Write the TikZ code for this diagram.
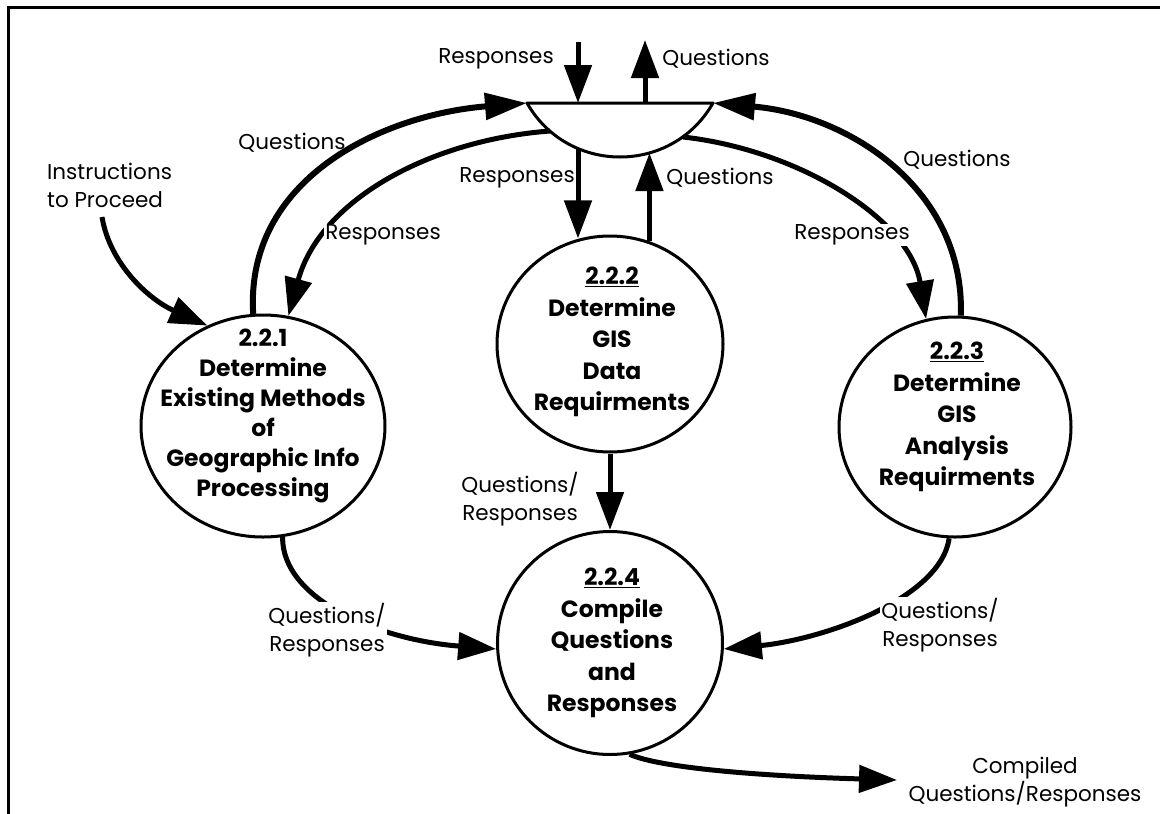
\documentclass[tikz,border=0pt]{standalone}
\usepackage{fontspec}
\setmainfont{Poppins}
\usetikzlibrary{arrows.meta,shapes.geometric}

\tikzset{
  proc/.style={ellipse, draw, line width=3pt, inner sep=0pt},
  proctext/.style={align=center, font=\bfseries\fontsize{23.5}{31.5}\selectfont},
  lbl/.style={align=center, font=\fontsize{21.5}{28}\selectfont, inner sep=1pt},
  lblw/.style={lbl, fill=white},
  flow/.style={line width=5pt, -{Triangle[length=38pt,width=27pt]}},
  bigflow/.style={line width=6pt, -{Triangle[length=42pt,width=26pt]}},
  storeline/.style={line width=3pt, line join=round},
}

\begin{document}
\begin{tikzpicture}[x=1pt,y=-1pt]
\useasboundingbox (0,0) rectangle (1160,814);

% outer frame
\draw[line width=3pt] (8,830) -- (8,7) -- (1175,7);

% data store (flat top, curved bottom)
\coordinate (sL) at (527,103);
\coordinate (sR) at (713,103);
\coordinate (sTin) at (578,103);
\coordinate (sTout) at (645,103);
\coordinate (sB1) at (578,148);
\coordinate (sB2) at (650,153);
\coordinate (sBL) at (550,131);
\coordinate (sBR) at (683,137);
\draw[storeline] (sL) .. controls (568,175) and (672,175) .. (sR) -- cycle;

% processes
\node[proc, minimum width=244pt, minimum height=222pt] (p1) at (263,426) {};
\node[proctext, font=\bfseries\fontsize{23.5}{30}\selectfont] (t1) at (263,416) {2.2.1\\Determine\\Existing Methods\\of\\Geographic Info\\Processing};

\node[proc, minimum width=226pt, minimum height=216pt] (p2) at (610,344) {};
\node[proctext] (t2) at (612,342) {\underline{2.2.2}\\Determine\\GIS\\Data\\Requirments};

\node[proc, minimum width=232pt, minimum height=220pt] (p3) at (955,427) {};
\node[proctext] (t3) at (957,417) {\underline{2.2.3}\\Determine\\GIS\\Analysis\\Requirments};

\node[proc, minimum width=225pt, minimum height=223pt] (p4) at (610,643) {};
\node[proctext] (t4) at (612,643) {\underline{2.2.4}\\Compile\\Questions\\and\\Responses};

% external flows at the store
\coordinate (extIn) at (578,42);
\coordinate (extOut) at (645,40);
\draw[flow] (extIn) -- (sTin);
\draw[flow] (sTout) -- (extOut);
\node[lbl] (lRespTop) at (496,59) {Responses};
\node[lbl] (lQuesTop) at (716,59) {Questions};

% 2.2.1 <-> store
\draw[bigflow] (p1.95) .. controls (245,180) and (380,115) .. (sL);
\draw[flow] (sBL) .. controls (430,140) and (320,200) .. (p1.77);
\node[lbl] (lQ1) at (292,143) {Questions};
\node[lblw] (lR1) at (383,235) {Responses};

% 2.2.2 <-> store
\draw[flow] (sB1) -- (sB1 |- p2.106);
\draw[flow] (p2.69) -- (p2.69 |- sB2);
\node[lbl] (lR2) at (517,178) {Responses};
\node[lbl] (lQ2) at (720,178) {Questions};

% 2.2.3 <-> store
\draw[bigflow] (p3.87) .. controls (965,190) and (850,115) .. (sR);
\draw[flow] (sBR) .. controls (800,150) and (910,220) .. (p3.105);
\node[lbl] (lQ3) at (957,160) {Questions};
\node[lblw] (lR3) at (852,235) {Responses};

% instructions into 2.2.1
\coordinate (instr) at (102,217);
\draw[flow] (instr) .. controls (110,265) and (150,300) .. (p1.119);
\node[lbl, align=left, anchor=west] (lInstr) at (46,185) {Instructions\\to Proceed};

% flows into 2.2.4
\draw[flow] (p2.south) -- (p4.north);
\node[lbl] (lQR2) at (520,499) {Questions/\\Responses};

\draw[flow] (p1.-80) .. controls (282,600) and (380,640) .. (p4.183);
\node[lblw] (lQR1) at (327,630) {Questions/\\Responses};

\draw[flow] (p3.-93) .. controls (940,600) and (820,640) .. (p4.-3);
\node[lblw] (lQR3) at (940,625) {Questions/\\Responses};

% output of 2.2.4
\coordinate (outEnd) at (897,780);
\draw[flow] (p4.-80) .. controls (660,768) and (760,776) .. (outEnd);
\node[lbl] (lOut) at (1025,782) {Compiled\\Questions/Responses};

\end{tikzpicture}
\end{document}
